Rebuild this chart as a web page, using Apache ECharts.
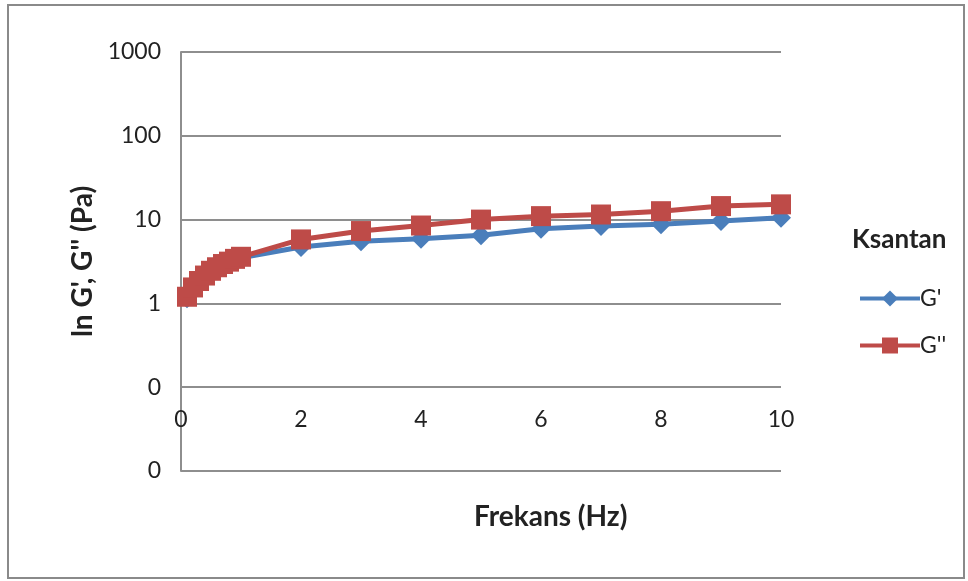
<!DOCTYPE html>
<html>
<head>
<meta charset="utf-8">
<script src="https://cdn.jsdelivr.net/npm/echarts@6/dist/echarts.min.js"></script>
<style>
  html, body { margin: 0; padding: 0; background: #fff; }
  #chart { width: 968px; height: 581px; }
</style>
</head>
<body>
<div id="chart"></div>
<script>
// Frequency sweep (Hz) and moduli (Pa) for the xanthan sample
const freq = [0.1, 0.2, 0.3, 0.4, 0.5, 0.6, 0.7, 0.8, 0.9, 1, 2, 3, 4, 5, 6, 7, 8, 9, 10];
const gStorage = [1.15, 1.5, 1.8, 2.1, 2.4, 2.65, 2.9, 3.1, 3.3, 3.5, 4.7, 5.5, 5.9, 6.5, 7.8, 8.4, 8.8, 9.6, 10.5];
const gLoss = [1.2, 1.55, 1.85, 2.15, 2.45, 2.7, 2.95, 3.15, 3.4, 3.6, 5.8, 7.3, 8.5, 10.0, 11.0, 11.5, 12.6, 14.5, 15.2];
const seriesNames = ["G'", "G''"];
const legendTitle = 'Ksantan';
const xTitle = 'Frekans (Hz)';
const yTitle = "ln G', G'' (Pa)";

const FONT = 'Lato, "Liberation Sans", sans-serif';
const GRID = '#8e8e8e';
const BLUE = '#4a7ebb';
const RED = '#be4b48';

const chart = echarts.init(document.getElementById('chart'), null, { renderer: 'canvas' });

chart.setOption({
  animation: false,
  backgroundColor: '#fff',
  title: {
    text: legendTitle,
    left: 847,
    top: 222,
    textStyle: { fontFamily: FONT, fontWeight: 'bold', fontSize: 26, color: '#222' }
  },
  legend: {
    orient: 'vertical',
    left: 853,
    top: 282,
    itemWidth: 60,
    itemHeight: 20,
    itemGap: 24,
    lineStyle: { width: 4 },
    textStyle: { fontFamily: FONT, fontSize: 23, color: '#222', padding: [0, 0, 0, -5] },
    data: seriesNames
  },
  grid: { left: 181, right: 187, top: 52, bottom: 110, containLabel: false },
  xAxis: {
    type: 'value',
    min: 0,
    max: 10,
    interval: 2,
    offset: -84,
    axisLine: { show: false },
    axisTick: { show: false },
    splitLine: { show: false },
    axisLabel: { margin: 21, fontFamily: FONT, fontSize: 23, color: '#222' }
  },
  yAxis: {
    type: 'log',
    logBase: 10,
    min: 0.01,
    max: 1000,
    splitNumber: 5,
    name: yTitle,
    nameLocation: 'middle',
    nameRotate: 90,
    nameGap: 84,
    nameTextStyle: { fontFamily: FONT, fontWeight: 'bold', fontSize: 28, color: '#222' },
    axisLine: { show: true, lineStyle: { color: GRID, width: 2 } },
    axisTick: { show: false },
    splitLine: { show: true, lineStyle: { color: GRID, width: 2 } },
    axisLabel: {
      margin: 20,
      fontFamily: FONT,
      fontSize: 23,
      color: '#222',
      formatter: v => (v >= 1 ? String(Math.round(v)) : '0')
    }
  },
  graphic: [
    {
      type: 'rect',
      shape: { x: 8, y: 5, width: 956, height: 573 },
      style: { fill: 'none', stroke: '#8a8a8a', lineWidth: 2 },
      silent: true
    },
    {
      type: 'text',
      left: 474,
      top: 503,
      style: { text: xTitle, fontFamily: FONT, fontWeight: 'bold', fontSize: 28, fill: '#222' }
    }
  ],
  series: [
    {
      name: seriesNames[0],
      type: 'line',
      data: freq.map((f, i) => [f, gStorage[i]]),
      symbol: 'diamond',
      symbolSize: 20,
      lineStyle: { color: BLUE, width: 5 },
      itemStyle: { color: BLUE }
    },
    {
      name: seriesNames[1],
      type: 'line',
      data: freq.map((f, i) => [f, gLoss[i]]),
      symbol: 'rect',
      symbolSize: 20,
      lineStyle: { color: RED, width: 5 },
      itemStyle: { color: RED }
    }
  ]
});
</script>
</body>
</html>
